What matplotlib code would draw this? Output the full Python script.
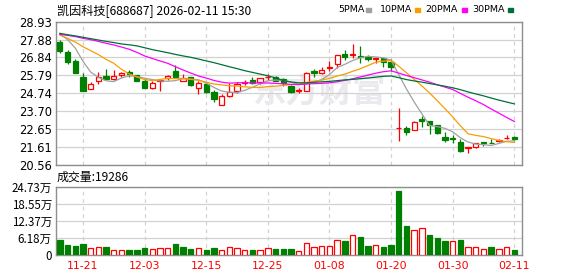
import numpy as np
import matplotlib
matplotlib.use("Agg")
import matplotlib.pyplot as plt
from matplotlib.patches import Rectangle

# trading days shown (MM-DD)
dates = ["11-18", "11-19", "11-20", "11-21", "11-24", "11-25", "11-26", "11-27", "11-28",
         "12-01", "12-02", "12-03", "12-04", "12-05", "12-08", "12-09", "12-10", "12-11", "12-12",
         "12-15", "12-16", "12-17", "12-18", "12-19", "12-22", "12-23", "12-24", "12-25", "12-26",
         "12-29", "12-30", "12-31", "01-05", "01-06", "01-07", "01-08", "01-09", "01-12", "01-13",
         "01-14", "01-15", "01-16", "01-19", "01-20", "01-21", "01-22", "01-23", "01-26", "01-27",
         "01-28", "01-29", "01-30", "02-02", "02-03", "02-04", "02-05", "02-06", "02-09", "02-10", "02-11"]

opens = [27.76, 27.16, 26.63, 25.70, 24.98, 25.49, 25.76, 25.60, 25.80, 25.99,
         25.80, 25.47, 25.08, 25.49, 25.66, 26.05, 25.45, 25.68, 25.08, 25.29,
         24.82, 24.05, 24.61, 24.90, 25.33, 25.53, 25.39, 25.70, 25.72, 25.56,
         25.17, 24.88, 24.86, 26.07, 25.95, 26.21, 26.44, 27.03, 27.00, 26.95,
         26.89, 26.73, 26.83, 26.58, 22.70, 22.74, 22.59, 23.23, 23.11, 22.88,
         22.22, 22.12, 21.88, 21.55, 21.59, 21.88, 21.87, 21.98, 22.12, 22.22]
highs = [27.86, 27.28, 26.75, 25.91, 25.41, 25.99, 26.17, 26.11, 26.01, 26.11,
         25.80, 25.56, 25.47, 25.59, 25.82, 26.40, 25.86, 25.72, 25.47, 25.41,
         24.94, 24.71, 25.33, 25.41, 25.53, 25.72, 25.62, 25.88, 25.76, 25.66,
         25.23, 25.04, 26.01, 26.15, 26.30, 26.65, 26.99, 27.26, 27.63, 27.51,
         27.01, 26.89, 26.83, 26.73, 23.87, 22.84, 23.13, 23.42, 23.11, 22.88,
         22.49, 22.29, 22.08, 21.63, 21.86, 21.88, 22.06, 22.08, 22.31, 22.27]
lows = [27.12, 26.48, 25.93, 24.90, 24.98, 25.31, 25.58, 25.51, 25.68, 25.68,
        25.49, 25.08, 25.02, 24.90, 25.51, 25.66, 25.45, 25.19, 24.71, 24.79,
        24.26, 24.05, 24.51, 24.79, 25.23, 25.29, 25.29, 25.53, 25.45, 25.19,
        24.79, 24.75, 24.86, 25.72, 25.88, 26.07, 26.25, 26.69, 26.83, 26.50,
        26.65, 26.50, 26.30, 26.07, 21.98, 22.31, 22.59, 22.80, 22.35, 22.37,
        21.92, 21.83, 21.34, 21.28, 21.55, 21.67, 21.83, 21.88, 22.06, 21.98]
closes = [27.22, 26.60, 25.95, 24.90, 25.27, 25.68, 25.58, 25.74, 25.93, 25.90,
          25.49, 25.08, 25.33, 25.55, 25.78, 25.70, 25.62, 25.23, 25.35, 24.82,
          24.43, 24.59, 24.84, 25.29, 25.43, 25.33, 25.62, 25.72, 25.49, 25.33,
          24.84, 24.94, 25.91, 25.95, 26.09, 26.30, 26.99, 26.89, 27.03, 26.89,
          26.73, 26.83, 26.60, 26.30, 22.74, 22.51, 23.05, 23.15, 22.88, 22.41,
          22.02, 22.06, 21.40, 21.59, 21.83, 21.85, 21.83, 22.02, 22.16, 22.06]

# moving averages as shown on the chart
ma5 = [28.20, 27.89, 27.39, 26.62, 25.99, 25.68, 25.48, 25.43, 25.64, 25.77,
       25.73, 25.63, 25.55, 25.47, 25.45, 25.49, 25.60, 25.58, 25.54, 25.34,
       25.09, 24.88, 24.81, 24.79, 24.92, 25.10, 25.30, 25.48, 25.52, 25.50,
       25.40, 25.26, 25.30, 25.39, 25.55, 25.84, 26.25, 26.44, 26.66, 26.82,
       26.91, 26.87, 26.82, 26.67, 25.84, 25.00, 24.24, 23.55, 22.87, 22.80,
       22.70, 22.50, 22.15, 21.90, 21.78, 21.75, 21.70, 21.82, 21.94, 21.98]
ma10 = [28.15, 27.96, 27.74, 27.47, 27.24, 27.01, 26.73, 26.50, 26.15, 25.88,
        25.70, 25.55, 25.49, 25.56, 25.61, 25.61, 25.61, 25.56, 25.50, 25.40,
        25.29, 25.24, 25.19, 25.17, 25.13, 25.09, 25.09, 25.14, 25.16, 25.21,
        25.25, 25.28, 25.39, 25.46, 25.52, 25.62, 25.76, 25.87, 26.03, 26.18,
        26.37, 26.56, 26.63, 26.67, 26.33, 25.95, 25.56, 25.18, 24.77, 24.32,
        23.85, 23.37, 22.85, 22.38, 22.29, 22.22, 22.10, 21.99, 21.92, 21.88]
ma20 = [28.19, 28.13, 28.06, 27.96, 27.88, 27.78, 27.67, 27.57, 27.45, 27.32,
        27.14, 26.93, 26.78, 26.64, 26.50, 26.30, 26.11, 25.93, 25.76, 25.64,
        25.50, 25.40, 25.34, 25.36, 25.37, 25.35, 25.35, 25.35, 25.33, 25.30,
        25.27, 25.26, 25.29, 25.31, 25.33, 25.36, 25.42, 25.51, 25.59, 25.70,
        25.81, 25.92, 26.01, 26.06, 25.93, 25.79, 25.66, 25.53, 25.40, 25.25,
        25.11, 24.97, 24.74, 24.52, 24.31, 24.09, 23.83, 23.59, 23.34, 23.10]
ma30 = [28.25, 28.17, 28.10, 28.02, 27.94, 27.86, 27.78, 27.71, 27.63, 27.58,
        27.52, 27.41, 27.30, 27.21, 27.12, 27.02, 26.93, 26.85, 26.75, 26.64,
        26.54, 26.42, 26.30, 26.19, 26.07, 25.97, 25.87, 25.77, 25.65, 25.49,
        25.41, 25.36, 25.36, 25.39, 25.42, 25.44, 25.49, 25.53, 25.56, 25.60,
        25.64, 25.69, 25.74, 25.76, 25.66, 25.55, 25.47, 25.40, 25.32, 25.24,
        25.16, 25.07, 24.96, 24.83, 24.71, 24.60, 24.47, 24.35, 24.24, 24.13]

# volume in 万 (10k)
volumes = [5.25, 3.70, 3.34, 4.06, 2.51, 2.87, 2.87, 1.90, 1.90, 1.90,
           1.90, 2.62, 2.26, 2.62, 2.62, 3.95, 2.98, 2.26, 2.51, 1.90,
           2.62, 1.66, 2.87, 2.51, 1.85, 1.85, 1.85, 2.51, 2.26, 2.26,
           2.26, 1.45, 4.31, 2.87, 3.23, 3.23, 5.49, 5.13, 7.18, 6.57,
           3.34, 3.59, 2.98, 3.70, 23.09, 10.52, 8.97, 9.69, 7.18, 6.21,
           5.13, 5.13, 5.49, 2.87, 2.87, 2.15, 2.87, 2.15, 2.87, 1.93]

price_ticks = [20.56, 21.61, 22.65, 23.70, 24.74, 25.79, 26.84, 27.88, 28.93]
vol_ticks = [0, 6.18, 12.37, 18.55, 24.73]
vol_labels = ["0", "6.18万", "12.37万", "18.55万", "24.73万"]
date_ticks = ["11-21", "12-03", "12-15", "12-25", "01-08", "01-20", "01-30", "02-11"]

RED = "#ff0000"
GREEN = "#008000"
FRAME = "#8e8e8e"
GRID = "#d2d2d2"
CJK = ["Noto Sans CJK SC", "DejaVu Sans"]

W, H = 578, 276
fig = plt.figure(figsize=(W / 100, H / 100), dpi=100)
ax = fig.add_axes([56 / W, (H - 165) / H, 466 / W, 143.3 / H])
axv = fig.add_axes([56 / W, (H - 255) / H, 466 / W, 68.5 / H])

x = np.arange(len(dates))
o = np.array(opens)
c = np.array(closes)
up = c >= o
tick_pos = [dates.index(d) for d in date_ticks]

for a in (ax, axv):
    a.set_xlim(-0.5, len(dates))
    for s in a.spines.values():
        s.set_color(FRAME)
        s.set_linewidth(1.0)
    for p in tick_pos:
        a.axvline(p, color=GRID, lw=0.9, dashes=(3, 3), zorder=0)
    a.tick_params(length=0, labelsize=8.3, pad=3)

# watermark
ax.text(0.565, 0.50, "东方财富", transform=ax.transAxes, fontsize=24,
        family=CJK, fontweight="bold", color="#e9e9ee", ha="center", va="center",
        zorder=0)

# price panel
ax.set_ylim(price_ticks[0], price_ticks[-1])
ax.set_yticks(price_ticks)
ax.set_yticklabels([f"{t:.2f}" for t in price_ticks])
ax.yaxis.grid(True, color=GRID, lw=0.9)
ax.set_axisbelow(True)
ax.set_xticks([])

cols = np.where(up, RED, GREEN)
ax.vlines(x, lows, highs, colors=cols, lw=0.9, zorder=2)
bottom = np.minimum(o, c)
height = np.maximum(np.abs(c - o), 0.015)
ax.bar(x, height, bottom=bottom, width=0.68,
       color=np.where(up, "white", GREEN), edgecolor=cols, lw=0.9, zorder=3)

ax.plot(x, ma5, color="#a0a0a0", lw=0.9, zorder=4)
ax.plot(x, ma10, color="#f5a000", lw=0.9, zorder=4)
ax.plot(x, ma20, color="#ff00ff", lw=0.9, zorder=4)
ax.plot(x, ma30, color="#007038", lw=0.9, zorder=4)

# volume panel: colour follows close vs previous close
vol_up = np.concatenate([[c[0] >= o[0]], c[1:] >= c[:-1]])
vcols = np.where(vol_up, RED, GREEN)
axv.bar(x, volumes, width=0.7, color=np.where(vol_up, "white", GREEN),
        edgecolor=vcols, lw=0.9, zorder=3)
axv.set_ylim(0, vol_ticks[-1])
axv.set_yticks(vol_ticks)
axv.set_yticklabels(vol_labels, family=CJK)
axv.yaxis.grid(True, color=GRID, lw=0.9)
axv.set_axisbelow(True)
axv.set_xticks(tick_pos)
axv.set_xticklabels(date_ticks, color=RED, fontsize=7.8)
axv.tick_params(axis="x", pad=4)

# titles and legend
fig.text(57 / W, 1 - 10.5 / H, "凯因科技[688687] 2026-02-11 15:30", family=CJK,
         fontsize=8.7, va="center", ha="left")
fig.text(57 / W, 1 - 177 / H, "成交量:19286", family=CJK, fontsize=8.6,
         va="center", ha="left")

legend = [("5PMA", "#a0a0a0", 338, 366), ("10PMA", "#f5a000", 380, 415),
          ("20PMA", "#ff00ff", 425, 462), ("30PMA", "#007038", 472, 508)]
for label, col, tx, sx in legend:
    fig.text(tx / W, 1 - 10 / H, label, fontsize=6.8, va="center", ha="left")
    fig.patches.append(Rectangle((sx / W, 1 - 11.5 / H), 5 / W, 3 / H,
                                 transform=fig.transFigure, color=col,
                                 figure=fig))

fig.savefig("out.png", dpi=100)
plt.close(fig)
